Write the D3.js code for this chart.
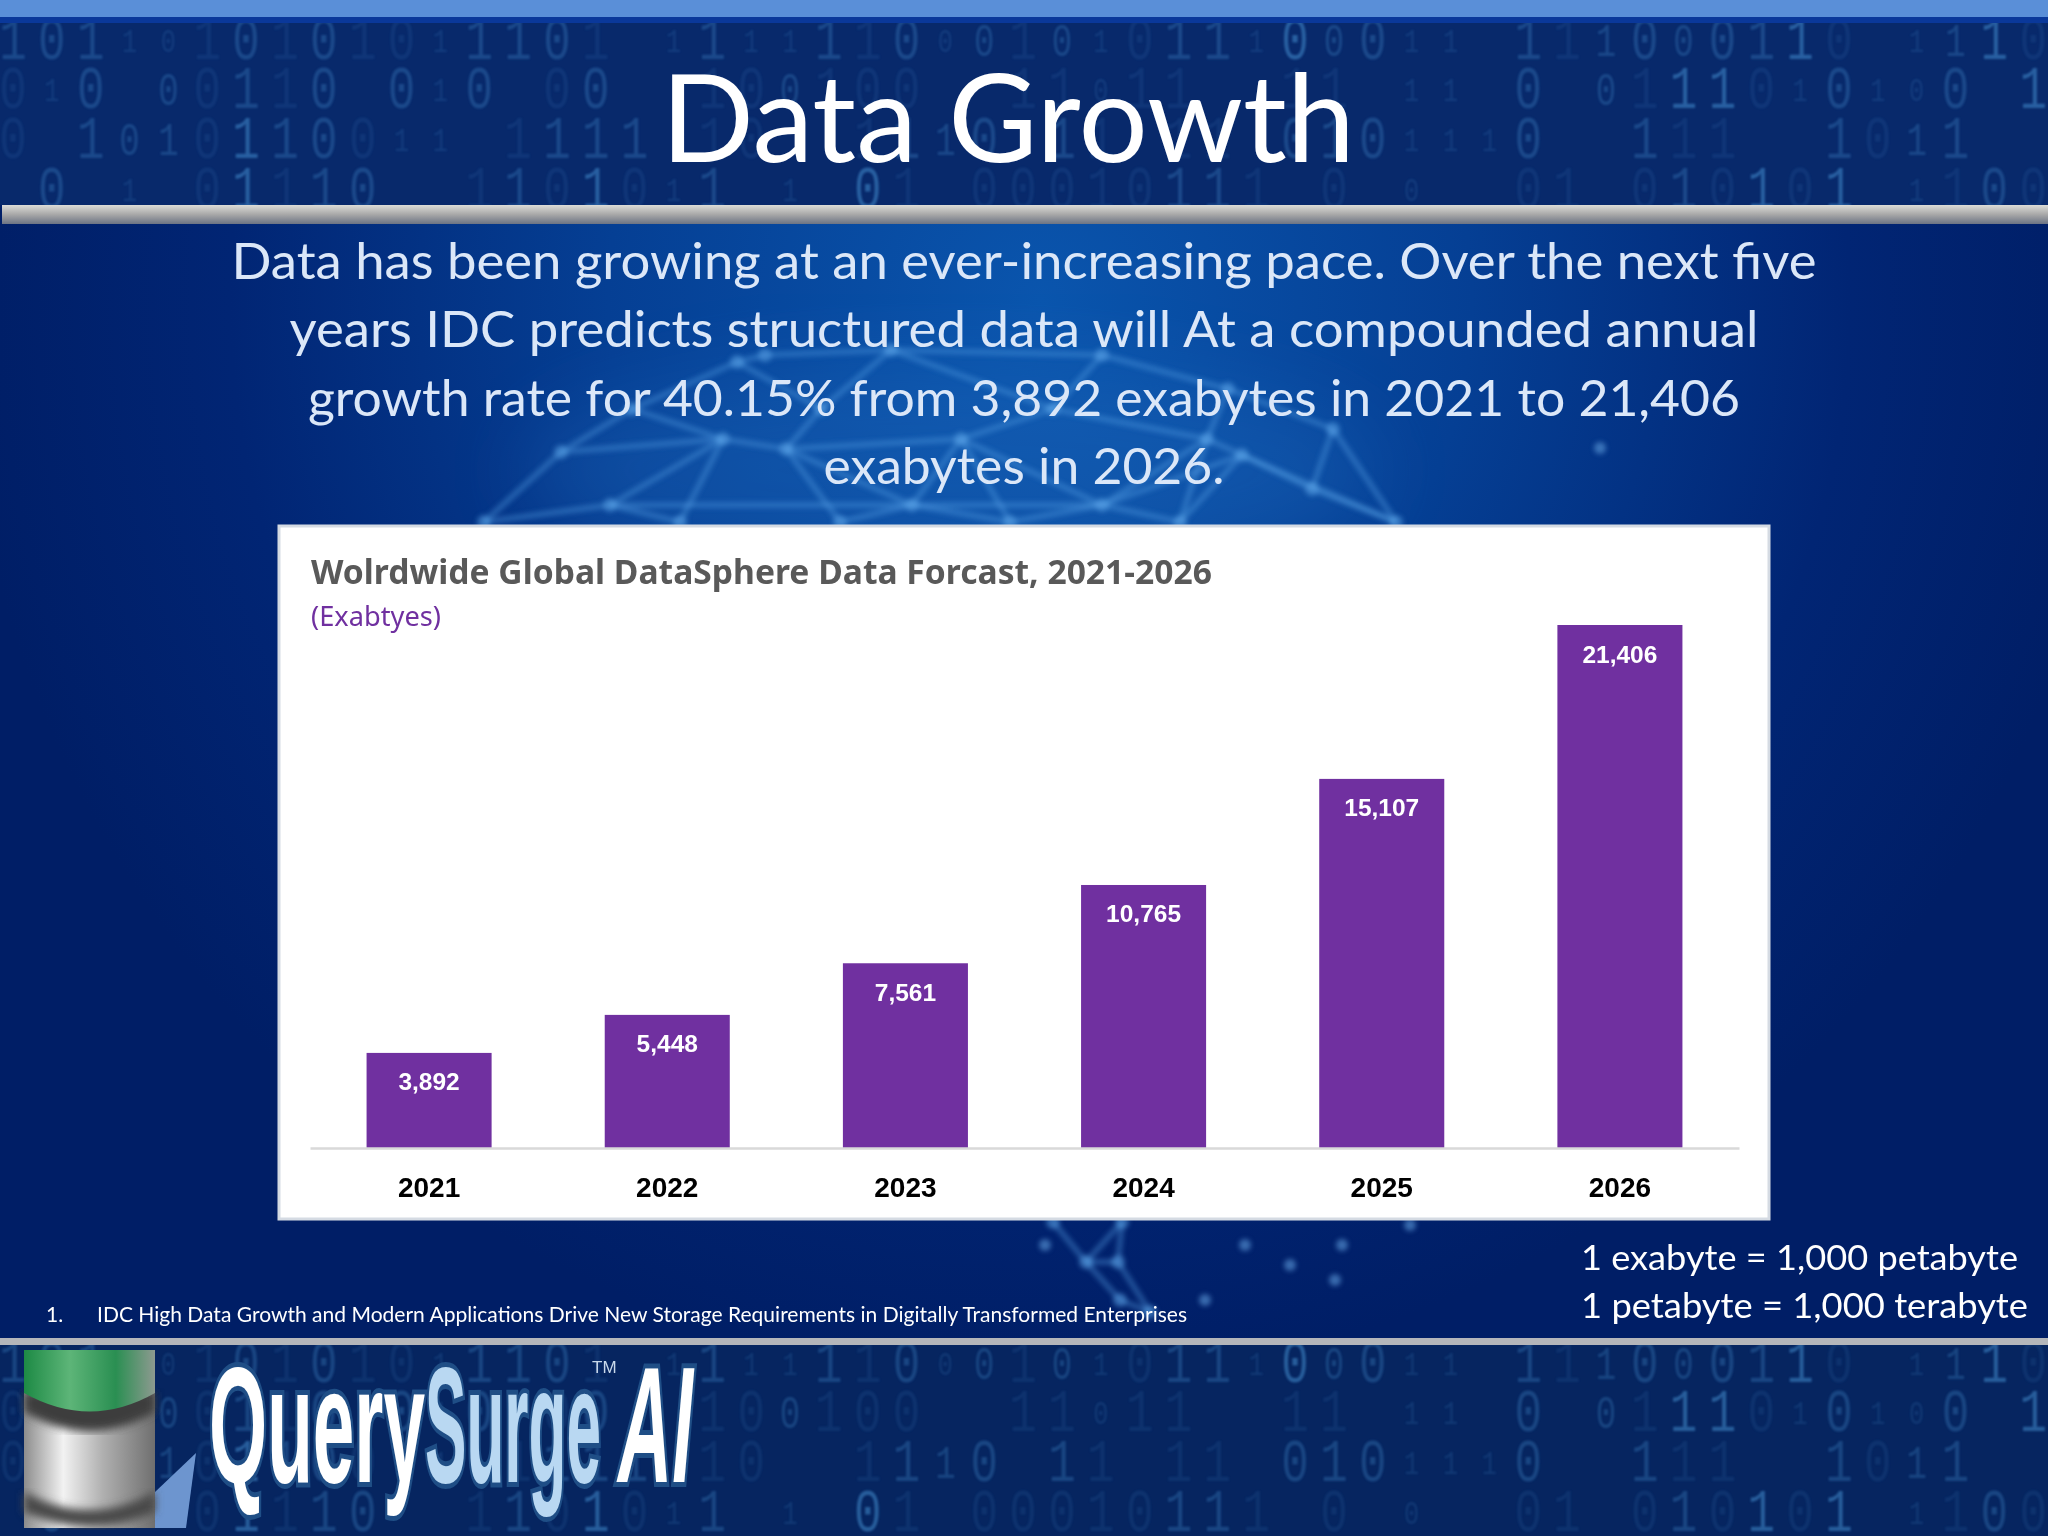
<!DOCTYPE html>
<html>
<head>
<meta charset="utf-8">
<script src="https://cdn.jsdelivr.net/npm/d3@7"></script>
<style>
  body { margin: 0; background: #00206a; }
  svg { display: block; }
</style>
</head>
<body>
<svg></svg>
<script>
const svg_width = 2048;
const svg_height = 1536;

// chart values
const years = ["2021", "2022", "2023", "2024", "2025", "2026"];
const exabytes = [3892, 5448, 7561, 10765, 15107, 21406];

// slide text
const bodyLines = [
    "Data has been growing at an ever-increasing pace. Over the next five",
    "years IDC predicts structured data will At a compounded annual",
    "growth rate for 40.15% from 3,892 exabytes in 2021 to 21,406",
    "exabytes in 2026."
];
const bodyWidths = [1585, 1469, 1432, 401];
const unitLines = ["1 exabyte = 1,000 petabyte", "1 petabyte = 1,000 terabyte"];
const unitWidths = [437, 447];

// binary wallpaper, one char per column, levels say how big and bright
const digitRows = [
    "1011010101011101 111111000101011100011 111000110 1110",
    "010 00110 010 00  100100  11011  11 11 0 0111010100 1",
    "0 1010110011 1111 10  1110 11 11 0101110 0111 11011 ",
    " 0 1 01110  1101011 1 01 00010111 0 0  01 010101 1100"
];
const levelRows = [
    "dddaacdcdccadddc adaadcdabcbacddaebdaa dcbdbddec abec",
    "cad bcdcd dad cd  ccbccc  ccacc  cc aa d bceecadaad e",
    "c dbbceddcaa cddd cc  cdbd dc cc dddaaadd dcce dcbdd ",
    " d a cecdd  cdcecad a ec cccccddc c a  cc cdcece acdc"
];
const digitLevels = {
    a: { size: 34, opacity: 0.16 },
    b: { size: 46, opacity: 0.26 },
    c: { size: 62, opacity: 0.11 },
    d: { size: 62, opacity: 0.27 },
    e: { size: 62, opacity: 0.46 }
};

// faint network globe behind the slide text
const meshNodes = [
    [484, 522], [561, 452], [632, 409], [737, 362], [765, 355], [891, 350],
    [1102, 355], [1228, 389], [1333, 429], [1396, 522], [723, 439], [786, 449],
    [961, 439], [1053, 409], [1207, 439], [1242, 455], [912, 505], [610, 505],
    [1102, 505], [1312, 489], [821, 409], [680, 522], [840, 522], [1010, 522],
    [1180, 522], [1053, 1222], [1122, 1222], [1086, 1262], [1118, 1262], [1150, 1312], [1120, 1300]
];
const meshLinks = [
    [0, 1], [1, 2], [2, 3], [3, 4], [4, 5], [5, 6], [6, 7], [7, 8], [8, 9],
    [1, 10], [2, 10], [10, 11], [11, 20], [20, 3], [20, 5], [11, 12], [12, 13], [13, 6],
    [13, 5], [12, 16], [16, 11], [16, 17], [17, 10], [17, 0], [12, 18], [18, 14], [14, 7],
    [14, 15], [15, 19], [19, 8], [19, 9], [18, 15], [13, 14], [16, 18], [15, 9],
    [17, 21], [10, 21], [11, 22], [16, 22], [12, 23], [16, 23], [18, 23], [18, 24], [14, 24], [15, 24],
    [25, 27], [26, 28], [27, 28], [27, 30], [28, 29], [30, 29], [26, 27]
];
const meshDots = [[1045, 1245], [1245, 1245], [1342, 1245], [1290, 1265], [1335, 1280], [1205, 1300], [1410, 1225], [1600, 448]];

const svg = d3.select("svg")
    .attr("width", svg_width)
    .attr("height", svg_height);

const defs = svg.append("defs");

const bodyGradient = defs.append("radialGradient")
    .attr("id", "bodyGradient")
    .attr("gradientUnits", "userSpaceOnUse")
    .attr("cx", 1040).attr("cy", 300).attr("r", 1080);
bodyGradient.append("stop").attr("offset", "0").attr("stop-color", "#0a55ad");
bodyGradient.append("stop").attr("offset", "0.4").attr("stop-color", "#053f94");
bodyGradient.append("stop").attr("offset", "0.75").attr("stop-color", "#012574");
bodyGradient.append("stop").attr("offset", "1").attr("stop-color", "#001e66");

const barGradient = defs.append("linearGradient")
    .attr("id", "barGradient")
    .attr("x1", 0).attr("y1", 0).attr("x2", 0).attr("y2", 1);
barGradient.append("stop").attr("offset", "0").attr("stop-color", "#dcdcd8");
barGradient.append("stop").attr("offset", "0.5").attr("stop-color", "#a8a8a8");
barGradient.append("stop").attr("offset", "1").attr("stop-color", "#6c7484");

const silverGradient = defs.append("linearGradient").attr("id", "silverGradient");
silverGradient.append("stop").attr("offset", "0").attr("stop-color", "#8d8d8d");
silverGradient.append("stop").attr("offset", "0.3").attr("stop-color", "#f2f2f2");
silverGradient.append("stop").attr("offset", "0.6").attr("stop-color", "#b0b0b0");
silverGradient.append("stop").attr("offset", "1").attr("stop-color", "#6f6f6f");

const greenGradient = defs.append("linearGradient").attr("id", "greenGradient");
greenGradient.append("stop").attr("offset", "0").attr("stop-color", "#1d8a45");
greenGradient.append("stop").attr("offset", "0.35").attr("stop-color", "#5db578");
greenGradient.append("stop").attr("offset", "0.7").attr("stop-color", "#2a8f52");
greenGradient.append("stop").attr("offset", "1").attr("stop-color", "#8d9a90");

defs.append("filter").attr("id", "soft")
    .append("feGaussianBlur").attr("stdDeviation", 2.6);
defs.append("filter").attr("id", "softer")
    .append("feGaussianBlur").attr("stdDeviation", 0.8);
defs.append("filter").attr("id", "glow")
    .attr("x", "-30%").attr("y", "-30%").attr("width", "160%").attr("height", "160%")
    .append("feGaussianBlur").attr("stdDeviation", 40);
defs.append("filter").attr("id", "shade")
    .append("feGaussianBlur").attr("stdDeviation", 4);

defs.append("clipPath").attr("id", "headClip")
    .append("rect").attr("x", 0).attr("y", 23).attr("width", svg_width).attr("height", 182);
defs.append("clipPath").attr("id", "footClip")
    .append("rect").attr("x", 0).attr("y", 1345).attr("width", svg_width).attr("height", 191);

// background
svg.append("rect")
    .attr("width", svg_width).attr("height", svg_height)
    .attr("fill", "url(#bodyGradient)");

svg.append("ellipse")
    .attr("cx", 950).attr("cy", 470).attr("rx", 430).attr("ry", 110)
    .attr("fill", "#2f7fd0")
    .attr("opacity", 0.22)
    .attr("filter", "url(#glow)");

const mesh = svg.append("g").attr("filter", "url(#soft)");
mesh.selectAll("line")
    .data(meshLinks)
    .enter()
    .append("line")
    .attr("x1", d => meshNodes[d[0]][0])
    .attr("y1", d => meshNodes[d[0]][1])
    .attr("x2", d => meshNodes[d[1]][0])
    .attr("y2", d => meshNodes[d[1]][1])
    .attr("stroke", "#5aa4e8")
    .attr("stroke-width", 6)
    .attr("opacity", 0.36);
mesh.selectAll("circle.node")
    .data(meshNodes)
    .enter()
    .append("circle")
    .attr("class", "node")
    .attr("cx", d => d[0]).attr("cy", d => d[1]).attr("r", 7)
    .attr("fill", "#5aa4e8")
    .attr("opacity", 0.5);
mesh.selectAll("circle.dot")
    .data(meshDots)
    .enter()
    .append("circle")
    .attr("class", "dot")
    .attr("cx", d => d[0]).attr("cy", d => d[1]).attr("r", 6)
    .attr("fill", "#5d9ddc")
    .attr("opacity", 0.6);

// header and footer bands
svg.append("rect").attr("x", 0).attr("y", 23).attr("width", svg_width).attr("height", 182).attr("fill", "#08296b");
svg.append("rect").attr("x", 0).attr("y", 1345).attr("width", svg_width).attr("height", 191).attr("fill", "#062560");
svg.append("rect").attr("x", 0).attr("y", 0).attr("width", svg_width).attr("height", 17).attr("fill", "#5a8fd8");
svg.append("rect").attr("x", 0).attr("y", 17).attr("width", svg_width).attr("height", 6).attr("fill", "#0a389a");

function drawDigits(clipId, rowY) {
    const g = svg.append("g")
        .attr("clip-path", `url(#${clipId})`)
        .attr("filter", "url(#softer)");
    digitRows.forEach((row, r) => {
        const cells = row.split("").map((ch, i) => ({ ch, i, level: digitLevels[levelRows[r][i]] }))
            .filter(d => d.ch !== " " && d.level);
        g.append("g").selectAll("text")
            .data(cells)
            .enter()
            .append("text")
            .attr("transform", d => `translate(${13 + 38.85 * d.i}, ${rowY[r]}) scale(0.74, 1)`)
            .attr("text-anchor", "middle")
            .attr("dominant-baseline", "central")
            .attr("font-family", "'Liberation Mono', monospace")
            .attr("font-size", d => d.level.size)
            .attr("fill", "#4f9fe0")
            .attr("opacity", d => d.level.opacity)
            .text(d => d.ch);
    });
}
drawDigits("headClip", [43, 92, 142, 192]);
drawDigits("footClip", [1366, 1415, 1465, 1515]);

svg.append("rect").attr("x", 2).attr("y", 205).attr("width", svg_width - 2).attr("height", 19).attr("fill", "url(#barGradient)");
svg.append("rect").attr("x", 0).attr("y", 1338).attr("width", svg_width).attr("height", 7).attr("fill", "#b4b6ba");

// title and body
svg.append("text")
    .attr("x", 1008).attr("y", 162)
    .attr("text-anchor", "middle")
    .attr("font-family", "Lato, sans-serif")
    .attr("font-size", 123)
    .attr("textLength", 694)
    .attr("lengthAdjust", "spacingAndGlyphs")
    .attr("fill", "#ffffff")
    .text("Data Growth");

svg.append("g").selectAll("text")
    .data(bodyLines)
    .enter()
    .append("text")
    .attr("x", 1024)
    .attr("y", (d, i) => 279 + i * 68.3)
    .attr("text-anchor", "middle")
    .attr("font-family", "Lato, sans-serif")
    .attr("font-size", 51)
    .attr("textLength", (d, i) => bodyWidths[i])
    .attr("lengthAdjust", "spacingAndGlyphs")
    .attr("fill", "#dbe7f8")
    .text(d => d);

// chart card
svg.append("rect")
    .attr("x", 279).attr("y", 526)
    .attr("width", 1490).attr("height", 693)
    .attr("fill", "#ffffff")
    .attr("stroke", "#d5dbe3")
    .attr("stroke-width", 3);

svg.append("text")
    .attr("x", 311).attr("y", 584)
    .attr("font-family", "'Noto Sans', sans-serif")
    .attr("font-weight", 700)
    .attr("font-size", 34)
    .attr("textLength", 901)
    .attr("lengthAdjust", "spacingAndGlyphs")
    .attr("fill", "#595959")
    .text("Wolrdwide Global DataSphere Data Forcast, 2021-2026");

svg.append("text")
    .attr("x", 311).attr("y", 626)
    .attr("font-family", "'Noto Sans', sans-serif")
    .attr("font-size", 27)
    .attr("textLength", 130)
    .attr("lengthAdjust", "spacingAndGlyphs")
    .attr("fill", "#7030a0")
    .text("(Exabtyes)");

const xScale = d3.scaleBand()
    .range([310, 1739])
    .domain(years)
    .paddingInner(0.475)
    .paddingOuter(0.2375);

const yScale = d3.scaleLinear()
    .range([1148, 625])
    .domain([0, d3.max(exabytes)]);

svg.append("g").selectAll("rect")
    .data(exabytes)
    .enter()
    .append("rect")
    .attr("x", (d, i) => xScale(years[i]))
    .attr("y", d => yScale(d))
    .attr("width", xScale.bandwidth())
    .attr("height", d => yScale(0) - yScale(d))
    .attr("fill", "#7030a0");

svg.append("g").selectAll("text")
    .data(exabytes)
    .enter()
    .append("text")
    .attr("x", (d, i) => xScale(years[i]) + xScale.bandwidth() / 2)
    .attr("y", d => yScale(d) + 37.5)
    .attr("text-anchor", "middle")
    .attr("font-family", "'Liberation Sans', sans-serif")
    .attr("font-weight", 700)
    .attr("font-size", 24.5)
    .attr("fill", "#ffffff")
    .text(d => d3.format(",")(d));

const xAxis = d3.axisBottom(xScale).tickSize(0).tickPadding(29);
const xAxisG = svg.append("g")
    .attr("transform", "translate(0, 1148)")
    .call(xAxis);
xAxisG.select(".domain").attr("stroke", "#d9d9d9").attr("stroke-width", 2.5);
xAxisG.selectAll("text")
    .attr("font-family", "'Liberation Sans', sans-serif")
    .attr("font-weight", 700)
    .attr("font-size", 28)
    .attr("fill", "#000000");

// footnote and units
svg.append("text")
    .attr("x", 46).attr("y", 1322)
    .attr("font-family", "Lato, sans-serif")
    .attr("font-size", 21)
    .attr("fill", "#ffffff")
    .text("1.");
svg.append("text")
    .attr("x", 97).attr("y", 1322)
    .attr("font-family", "Lato, sans-serif")
    .attr("font-size", 21)
    .attr("textLength", 1090)
    .attr("lengthAdjust", "spacingAndGlyphs")
    .attr("fill", "#ffffff")
    .text("IDC High Data Growth and Modern Applications Drive New Storage Requirements in Digitally Transformed Enterprises");

svg.append("g").selectAll("text")
    .data(unitLines)
    .enter()
    .append("text")
    .attr("x", 1581)
    .attr("y", (d, i) => 1270 + i * 48)
    .attr("font-family", "Lato, sans-serif")
    .attr("font-size", 35)
    .attr("textLength", (d, i) => unitWidths[i])
    .attr("lengthAdjust", "spacingAndGlyphs")
    .attr("fill", "#ffffff")
    .text(d => d);

// logo
const logo = svg.append("g");
logo.append("path")
    .attr("d", "M155 1528 L186 1528 L196 1453 L155 1492 Z")
    .attr("fill", "#6d95cf");
logo.append("rect")
    .attr("x", 24).attr("y", 1350).attr("width", 131).attr("height", 178)
    .attr("fill", "url(#silverGradient)");
logo.append("path")
    .attr("d", "M24 1492 Q90 1528 155 1492 L155 1512 Q90 1540 24 1512 Z")
    .attr("fill", "#4a4a4a")
    .attr("filter", "url(#shade)");
logo.append("path")
    .attr("d", "M24 1392 L155 1392 L155 1412 Q90 1450 24 1412 Z")
    .attr("fill", "#3c3c3c")
    .attr("filter", "url(#shade)");
logo.append("path")
    .attr("d", "M24 1350 L155 1350 L155 1393 Q90 1430 24 1393 Z")
    .attr("fill", "url(#greenGradient)");

const logoWords = logo.append("g")
    .attr("font-family", "'Liberation Sans', sans-serif")
    .attr("font-size", 166)
    .attr("font-weight", 700)
    .attr("stroke", "#1f4e86")
    .attr("stroke-width", 10)
    .attr("paint-order", "stroke");
logoWords.append("text")
    .attr("x", 209).attr("y", 1482)
    .attr("textLength", 216).attr("lengthAdjust", "spacingAndGlyphs")
    .attr("fill", "#ffffff")
    .text("Query");
logoWords.append("text")
    .attr("x", 425).attr("y", 1482)
    .attr("textLength", 176).attr("lengthAdjust", "spacingAndGlyphs")
    .attr("fill", "#b9d8f2")
    .text("Surge");
logoWords.append("text")
    .attr("x", 618).attr("y", 1482)
    .attr("textLength", 75).attr("lengthAdjust", "spacingAndGlyphs")
    .attr("font-style", "italic")
    .attr("fill", "#ffffff")
    .text("AI");
logo.append("text")
    .attr("x", 592).attr("y", 1373)
    .attr("font-family", "'Liberation Sans', sans-serif")
    .attr("font-size", 17)
    .attr("fill", "#c8d8ea")
    .text("TM");
</script>
</body>
</html>
